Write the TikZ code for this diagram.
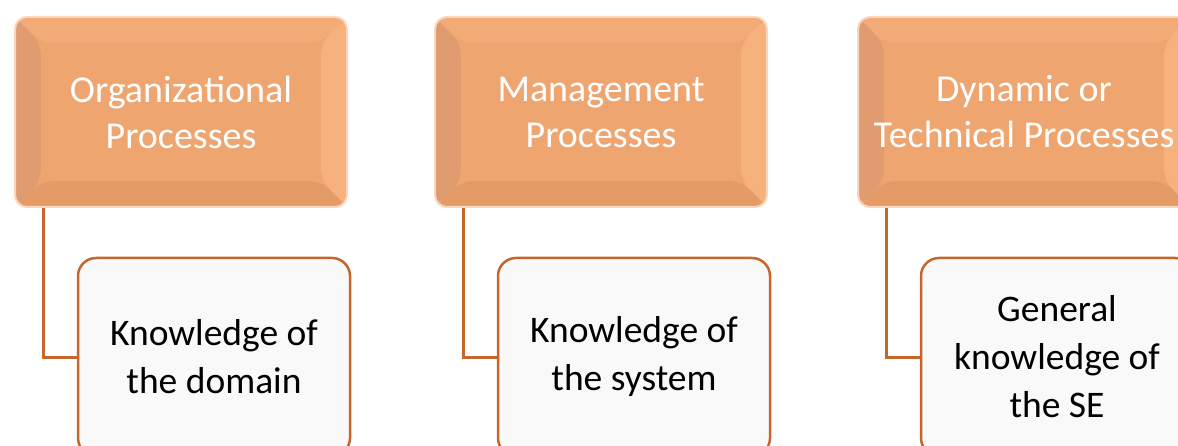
\documentclass[tikz,border=0pt]{standalone}
\usepackage{fontspec}
\setmainfont{Carlito}
\definecolor{procfill}{RGB}{239,165,111}
\definecolor{bevtop}{RGB}{242,170,118}
\definecolor{bevright}{RGB}{247,177,124}
\definecolor{bevbottom}{RGB}{228,155,104}
\definecolor{bevleft}{RGB}{224,155,112}
\definecolor{linecol}{RGB}{197,103,44}
\definecolor{knowfill}{RGB}{249,249,249}
\tikzset{
  proc/.style={minimum width=332pt, minimum height=190pt, rounded corners=12pt,
    fill=procfill, draw=procfill!45, line width=2pt, text=white, align=center,
    font=\fontsize{38}{46}\selectfont,
    path picture={
      \fill[bevleft] (path picture bounding box.south west) -- (path picture bounding box.north west)
        -- ([shift={(26pt,-26pt)}]path picture bounding box.north west) -- ([shift={(26pt,26pt)}]path picture bounding box.south west) -- cycle;
      \fill[bevtop] (path picture bounding box.north west) -- (path picture bounding box.north east)
        -- ([shift={(-26pt,-26pt)}]path picture bounding box.north east) -- ([shift={(26pt,-26pt)}]path picture bounding box.north west) -- cycle;
      \fill[bevright] (path picture bounding box.north east) -- (path picture bounding box.south east)
        -- ([shift={(-26pt,26pt)}]path picture bounding box.south east) -- ([shift={(-26pt,-26pt)}]path picture bounding box.north east) -- cycle;
      \fill[bevbottom] (path picture bounding box.south east) -- (path picture bounding box.south west)
        -- ([shift={(26pt,26pt)}]path picture bounding box.south west) -- ([shift={(-26pt,26pt)}]path picture bounding box.south east) -- cycle;
    }},
  know/.style={minimum width=272pt, minimum height=198pt, rounded corners=18pt,
    draw=linecol, line width=2.5pt, fill=knowfill, align=center,
    font=\fontsize{37.5}{48}\selectfont},
  conn/.style={draw=linecol, line width=3pt}
}
\begin{document}
\begin{tikzpicture}[x=1pt,y=1pt]
\useasboundingbox (0,0) rectangle (1178,-446);
\foreach \n/\x/\p/\k in {1/181/{Organizational\\Processes}/{Knowledge of\\the domain},
  2/601/{Management\\Processes}/{Knowledge of\\the system},
  3/1024/{Dynamic or\\Technical Processes}/{General\\knowledge of\\the SE}}
{\node[proc] (p\n) at (\x,-112) {\p};
 \node[know] (k\n) at (\x+33,-357) {\k};
 \draw[conn] ([xshift=29pt]p\n.south west) |- (k\n.west);}
\end{tikzpicture}
\end{document}
